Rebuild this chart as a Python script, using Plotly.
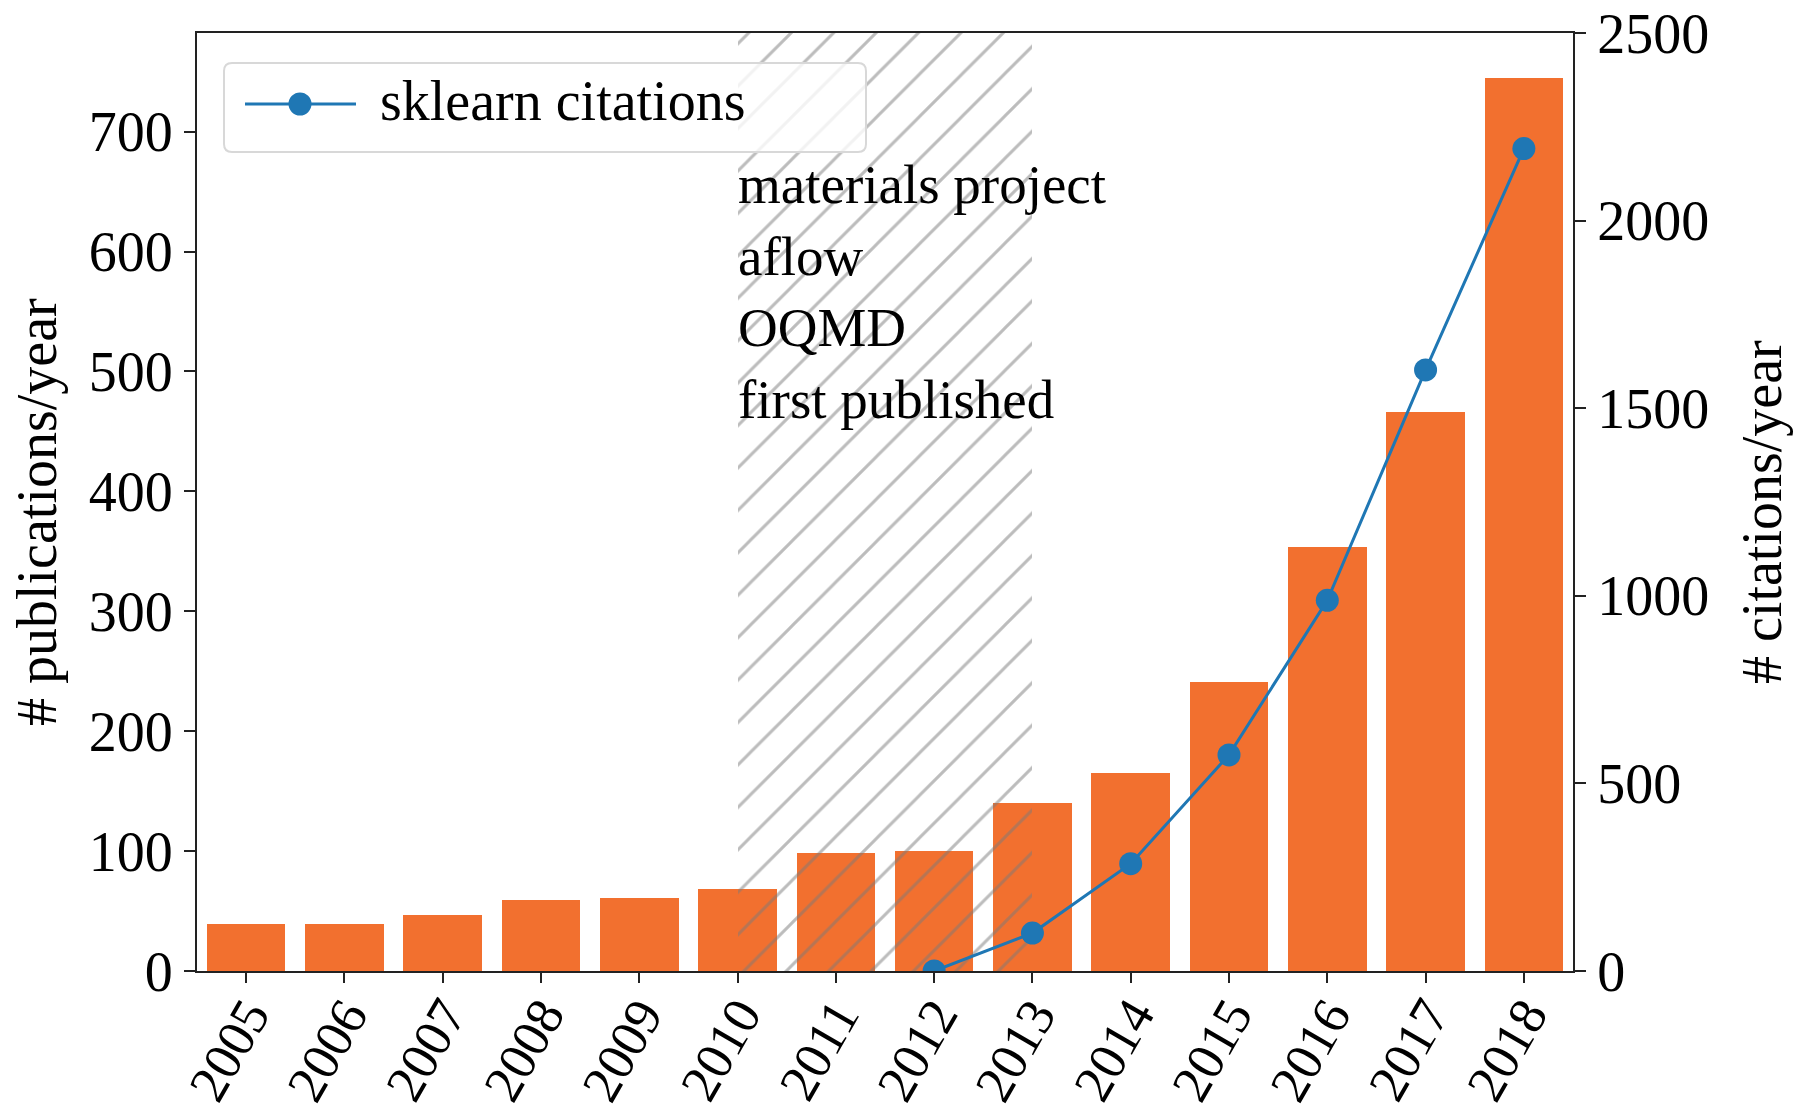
import plotly.graph_objects as go

# ---- data -----------------------------------------------------------------
years = [2005, 2006, 2007, 2008, 2009, 2010, 2011,
         2012, 2013, 2014, 2015, 2016, 2017, 2018]
publications = [39, 39, 47, 59, 61, 68, 98, 100, 140, 165, 241, 354, 466, 745]

citation_years = [2012, 2013, 2014, 2015, 2016, 2017, 2018]
sklearn_citations = [0, 101, 286, 576, 988, 1602, 2192]

database_span = [2010, 2013]
database_note = ["materials project", "aflow", "OQMD", "first published"]

pub_ticks = [0, 100, 200, 300, 400, 500, 600, 700]
cit_ticks = [0, 500, 1000, 1500, 2000, 2500]

# ---- styling ----------------------------------------------------------------
W, H = 1794, 1114
PL, PR, PT, PB = 197, 1573, 33, 971          # plot area in pixels
FONT = "Liberation Serif"
FS = 56
BAR_COLOR = "#F2702F"
LINE_COLOR = "#1f77b4"
AX_COLOR = "#222222"

pub_top = max(publications) * 1.05
cit_top = 2500


def px_x(p):
    return (p - PL) / (PR - PL)


def px_y(p):
    return (PB - p) / (PB - PT)


fig = go.Figure()

fig.add_trace(go.Bar(
    x=years, y=publications, width=0.8,
    marker=dict(color=BAR_COLOR, line=dict(width=0)),
    name="publications", showlegend=False, yaxis="y",
))

# hatched band marking when the materials databases appeared (drawn over the bars)
fig.add_trace(go.Bar(
    x=[(database_span[0] + database_span[1]) / 2], y=[pub_top],
    width=[database_span[1] - database_span[0]],
    marker=dict(
        color="rgba(0,0,0,0)", line=dict(width=0),
        pattern=dict(shape="/", fgcolor="#7a7a7a", bgcolor="rgba(0,0,0,0)",
                     size=30, solidity=0.1, fillmode="overlay"),
    ),
    hoverinfo="skip", showlegend=False, yaxis="y",
))

fig.add_trace(go.Scatter(
    x=citation_years, y=sklearn_citations, yaxis="y2",
    mode="lines+markers", name="sklearn citations",
    line=dict(color=LINE_COLOR, width=3),
    marker=dict(color=LINE_COLOR, size=23),
    showlegend=False,
))

axis_font = dict(family=FONT, size=FS, color="black")
year_font = dict(family=FONT, size=53, color="black")
note_font = dict(family=FONT, size=55, color="black")

fig.update_layout(
    width=W, height=H, autosize=False,
    margin=dict(l=PL, r=W - PR, t=PT, b=H - PB, pad=0),
    paper_bgcolor="white", plot_bgcolor="white",
    font=axis_font,
    barmode="overlay", bargap=0,
    xaxis=dict(
        range=[2004.5, 2018.5], tickmode="array", tickvals=years,
        showticklabels=False,
        showline=True, linecolor=AX_COLOR, linewidth=2, mirror=True,
        ticks="outside", ticklen=10, tickwidth=2, tickcolor=AX_COLOR,
        showgrid=False, zeroline=False, automargin=False,
    ),
    yaxis=dict(
        range=[0, pub_top], tickmode="array", tickvals=pub_ticks,
        showline=True, linecolor=AX_COLOR, linewidth=2,
        ticks="outside", ticklen=11, tickwidth=2, tickcolor=AX_COLOR,
        showgrid=False, zeroline=False, tickfont=axis_font, automargin=False,
    ),
    yaxis2=dict(
        range=[0, cit_top], tickmode="array", tickvals=cit_ticks,
        overlaying="y", side="right",
        showline=True, linecolor=AX_COLOR, linewidth=2,
        ticks="outside", ticklen=11, tickwidth=2, tickcolor=AX_COLOR,
        showgrid=False, zeroline=False, tickfont=axis_font, automargin=False,
    ),
)

# rotated year labels under the ticks
for yr in years:
    fig.add_annotation(
        x=yr, y=px_y(1050), xref="x", yref="paper", text=str(yr),
        textangle=-60, showarrow=False, xanchor="center", yanchor="middle",
        xshift=-17, font=year_font,
    )

# note inside the hatched band
fig.add_annotation(
    x=database_span[0], y=683, xref="x", yref="y",
    text="<br>".join(database_note), showarrow=False,
    xanchor="left", yanchor="top", align="left",
    font=note_font, xshift=-2,
)

# axis titles
fig.add_annotation(x=px_x(37), y=px_y(512), xref="paper", yref="paper",
                   text="# publications/year", textangle=-90, showarrow=False,
                   font=axis_font, xanchor="center", yanchor="middle")
fig.add_annotation(x=px_x(1762), y=px_y(512), xref="paper", yref="paper",
                   text="# citations/year", textangle=-90, showarrow=False,
                   font=axis_font, xanchor="center", yanchor="middle")

# legend box with the line-and-marker key
bx0, by0, bx1, by1, rad = px_x(224), px_y(63), px_x(866), px_y(152), 8
rx = rad / (PR - PL)
ry = rad / (PB - PT)
box_path = (
    f"M {bx0 + rx},{by0} L {bx1 - rx},{by0} Q {bx1},{by0} {bx1},{by0 - ry} "
    f"L {bx1},{by1 + ry} Q {bx1},{by1} {bx1 - rx},{by1} "
    f"L {bx0 + rx},{by1} Q {bx0},{by1} {bx0},{by1 + ry} "
    f"L {bx0},{by0 - ry} Q {bx0},{by0} {bx0 + rx},{by0} Z"
)
fig.add_shape(type="path", path=box_path, xref="paper", yref="paper",
              fillcolor="rgba(255,255,255,0.8)",
              line=dict(color="#d8d8d8", width=2))
key_y = 104
fig.add_shape(type="line", xref="paper", yref="paper",
              x0=px_x(245), x1=px_x(356), y0=px_y(key_y), y1=px_y(key_y),
              line=dict(color=LINE_COLOR, width=3))
mr = 11.5
fig.add_shape(type="circle", xref="paper", yref="paper",
              x0=px_x(300 - mr), x1=px_x(300 + mr),
              y0=px_y(key_y + mr), y1=px_y(key_y - mr),
              fillcolor=LINE_COLOR, line=dict(color=LINE_COLOR, width=0))
fig.add_annotation(x=px_x(378), y=px_y(key_y - 3), xref="paper", yref="paper",
                   text="sklearn citations", showarrow=False,
                   xanchor="left", yanchor="middle", font=axis_font)

fig.write_html("out.html")
